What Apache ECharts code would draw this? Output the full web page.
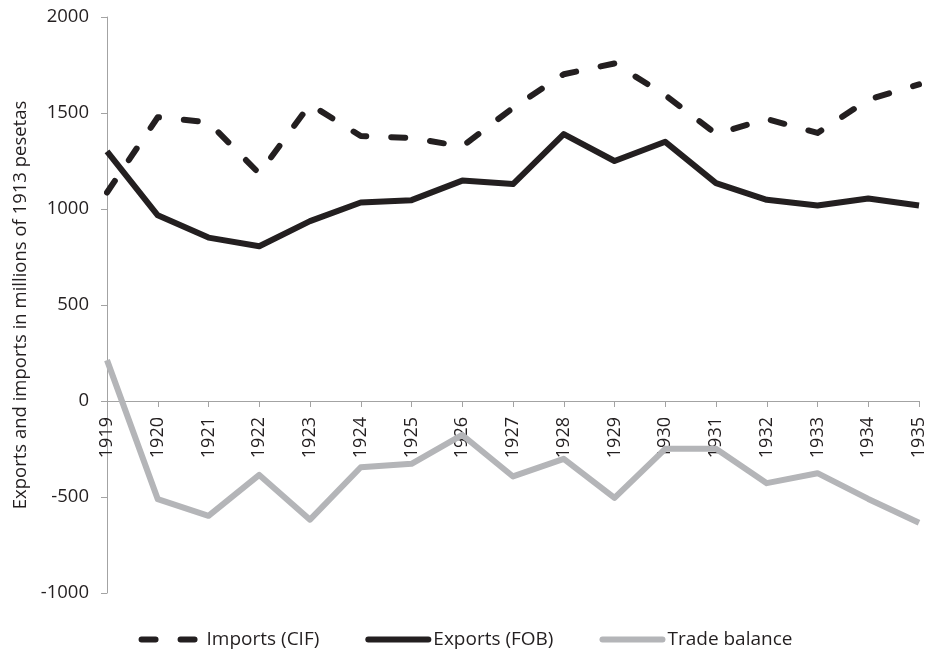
<!DOCTYPE html>
<html>
<head>
<meta charset="utf-8">
<script src="https://cdn.jsdelivr.net/npm/echarts@6/dist/echarts.min.js"></script>
<style>html,body{margin:0;padding:0;background:#fff}#c{width:931px;height:650px}</style>
</head>
<body>
<div id="c"></div>
<script>
const years = ['1919','1920','1921','1922','1923','1924','1925','1926','1927','1928','1929','1930','1931','1932','1933','1934','1935'];
const imports = [1086, 1478, 1452, 1185, 1545, 1380, 1370, 1326, 1527, 1702, 1758, 1593, 1391, 1469, 1396, 1570, 1649];
const exportsFob = [1300, 967, 851, 806, 937, 1034, 1046, 1148, 1130, 1390, 1250, 1350, 1135, 1048, 1018, 1055, 1018];
const tradeBalance = [213, -511, -598, -385, -618, -345, -327, -177, -393, -301, -505, -249, -249, -428, -376, -510, -634];
const yTicks = {min: -1000, max: 2000, interval: 500};
const seriesNames = ['Imports (CIF)', 'Exports (FOB)', 'Trade balance'];

const txt = '#231f20';
const dark = '#231f20';
const grey = '#b4b5b8';
const axisCol = '#a3a3a3';
const font = 'Open Sans';
const gridTop = 17, gridBottom = 57, H = 650;
const plotH = H - gridTop - gridBottom;
// x axis sits at value 0
const zeroOffset = -plotH * (0 - yTicks.min) / (yTicks.max - yTicks.min);
const dashStyle = {color: dark, width: 6, type: [14, 25], cap: 'round', join: 'round'};

const chart = echarts.init(document.getElementById('c'));
chart.setOption({
  animation: false,
  backgroundColor: '#fff',
  grid: {left: 107, right: 12, top: gridTop, bottom: gridBottom, containLabel: false},
  legend: {
    top: 625, left: 'center',
    itemWidth: 60, itemHeight: 12, itemGap: 46,
    itemStyle: {opacity: 0},
    textStyle: {fontFamily: font, fontSize: 19, color: txt},
    data: [
      {name: seriesNames[0], lineStyle: {width: 6, color: dark, type: [14, 25], cap: 'round'}},
      {name: seriesNames[1], lineStyle: {width: 6, color: dark, cap: 'round'}},
      {name: seriesNames[2], lineStyle: {width: 6, color: grey, cap: 'round'}}
    ]
  },
  xAxis: {
    type: 'category', data: years, boundaryGap: false,
    position: 'bottom', offset: zeroOffset,
    axisLine: {onZero: false, lineStyle: {color: axisCol, width: 1}},
    axisTick: {show: true, length: 6, alignWithLabel: true, lineStyle: {color: axisCol}},
    axisLabel: {rotate: 90, interval: 0, margin: 16, fontFamily: font, fontSize: 18, color: txt},
    splitLine: {show: false}
  },
  yAxis: {
    type: 'value', min: yTicks.min, max: yTicks.max, interval: yTicks.interval,
    name: 'Exports and imports in millions of 1913 pesetas',
    nameLocation: 'middle', nameGap: 77,
    nameTextStyle: {fontFamily: font, fontSize: 18.5, color: txt},
    axisLine: {show: true, lineStyle: {color: axisCol, width: 1}},
    axisTick: {show: true, length: 6, lineStyle: {color: axisCol}},
    axisLabel: {margin: 18, fontFamily: font, fontSize: 18.5, color: txt, formatter: v => String(v)},
    splitLine: {show: false}
  },
  series: [
    {name: seriesNames[0], type: 'line', data: imports, symbol: 'none',
     lineStyle: dashStyle, itemStyle: {color: dark}, z: 3},
    {name: seriesNames[1], type: 'line', data: exportsFob, symbol: 'none',
     lineStyle: {color: dark, width: 6, join: 'round'},
     itemStyle: {color: dark}, z: 4},
    {name: seriesNames[2], type: 'line', data: tradeBalance, symbol: 'none',
     lineStyle: {color: grey, width: 6, join: 'round'},
     itemStyle: {color: grey}, z: 2}
  ]
});
</script>
</body>
</html>
